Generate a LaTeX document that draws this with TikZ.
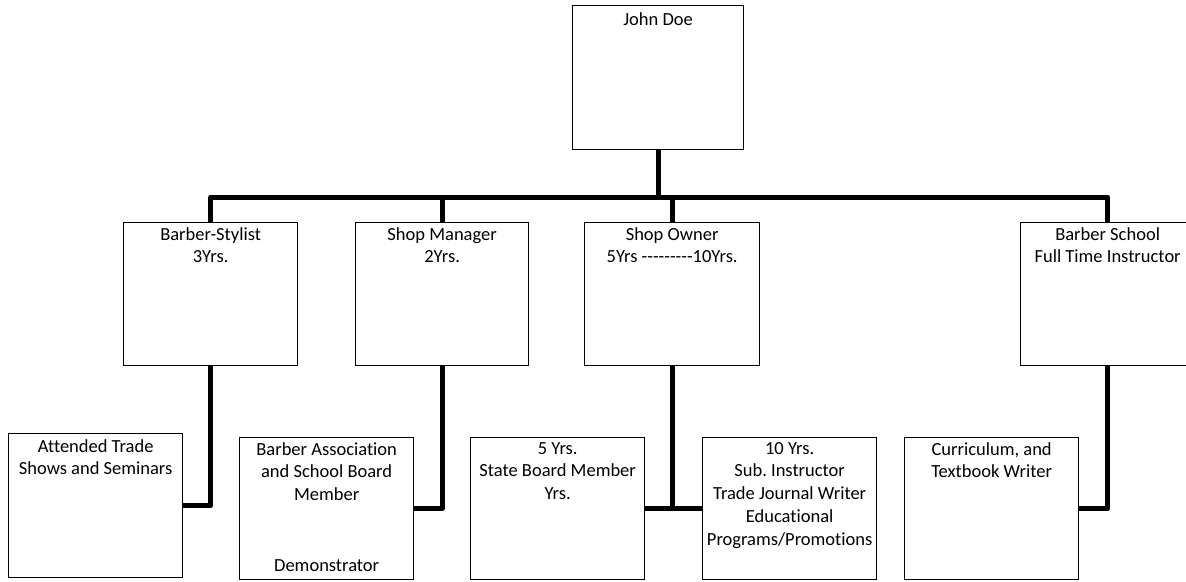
\documentclass[tikz,border=0pt]{standalone}
\usepackage{fontspec}
\setmainfont{Carlito}[Ligatures=NoCommon]
\frenchspacing
\begin{document}
\begin{tikzpicture}[x=1pt,y=-1pt,
  card/.style={draw=black,line width=1.3pt,rectangle,inner sep=0pt,anchor=north west,fill=white},
  txt/.style={anchor=north,inner sep=0pt,align=center,font=\fontsize{18.5}{22.7}\selectfont},
  link/.style={line width=5pt,line join=round}]
\useasboundingbox (0,0) rectangle (1186,581);
% boxes
\node[card,minimum width=171pt,minimum height=144pt] (jd) at (572,5) {};
\node[card,minimum width=174pt,minimum height=143pt] (bs) at (123,222) {};
\node[card,minimum width=173pt,minimum height=143pt] (sm) at (355,222) {};
\node[card,minimum width=175pt,minimum height=143pt] (so) at (584,222) {};
\node[card,minimum width=174pt,minimum height=143pt] (bsc) at (1020,222) {};
\node[card,minimum width=174pt,minimum height=144pt] (at) at (8,433) {};
\node[card,minimum width=174pt,minimum height=142pt] (ba) at (239,437) {};
\node[card,minimum width=174pt,minimum height=142pt] (s5) at (470,437) {};
\node[card,minimum width=174pt,minimum height=142pt] (t10) at (702,437) {};
\node[card,minimum width=174pt,minimum height=142pt] (cu) at (904,437) {};
% texts
\node[txt] (tjd) at ([yshift=-7pt]jd.north) {John Doe};
\node[txt] (tbs) at ([yshift=-5pt]bs.north) {Barber-Stylist\\3Yrs.};
\node[txt] (tsm) at ([yshift=-5pt]sm.north) {Shop Manager\\2Yrs.};
\node[txt] (tso) at ([yshift=-5pt]so.north) {Shop Owner\\5Yrs {-}{-}{-}{-}{-}{-}{-}{-}{-}10Yrs.};
\node[txt] (tbsc) at ([yshift=-5pt]bsc.north) {Barber School\\Full Time Instructor};
\node[txt] (tat) at ([yshift=-6pt]at.north) {Attended Trade\\Shows and Seminars};
\node[txt] (tba) at ([yshift=-5pt]ba.north) {Barber Association\\and School Board\\Member\\[48pt]Demonstrator};
\node[txt] (ts5) at ([yshift=-5pt]s5.north) {5 Yrs.\\State Board Member\\Yrs.};
\node[txt] (tt10) at ([yshift=-5pt]t10.north) {10 Yrs.\\Sub. Instructor\\Trade Journal Writer\\Educational\\Programs/Promotions};
\node[txt] (tcu) at ([yshift=-5pt]cu.north) {Curriculum, and\\Textbook Writer};
% connectors
\coordinate (bar) at (0,197);
\draw[link] (bs.north) -- (bs.north |- bar) -| (bsc.north);
\draw[link] (jd.south) -- (jd.south |- bar);
\draw[link] (sm.north) -- (sm.north |- bar);
\draw[link] (so.north) -- (so.north |- bar);
\draw[link] (bs.south) |- (at.east);
\draw[link] (sm.south) |- (ba.east);
\draw[link] (s5.east) -- (t10.west);
\draw[link] (so.south) -- (so.south |- s5.east);
\draw[link] (bsc.south) |- (cu.east);
\end{tikzpicture}
\end{document}
